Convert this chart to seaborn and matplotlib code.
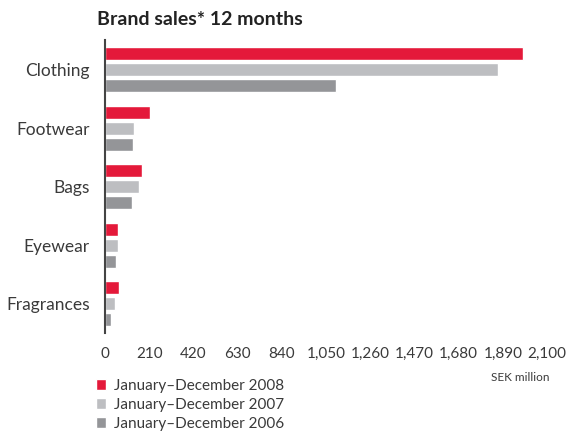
import matplotlib
matplotlib.use("Agg")
import matplotlib.pyplot as plt
import seaborn as sns
import pandas as pd
from matplotlib.ticker import FuncFormatter

categories = ["Clothing", "Footwear", "Bags", "Eyewear", "Fragrances"]
series_names = ["January\u2013December 2008", "January\u2013December 2007", "January\u2013December 2006"]
sales_2008 = [1984, 214, 176, 62, 67]
sales_2007 = [1867, 138, 161, 62, 47]
sales_2006 = [1097, 133, 128, 52, 28]
x_ticks = [0, 210, 420, 630, 840, 1050, 1260, 1470, 1680, 1890, 2100]
colors = ["#E4193A", "#BDBEC1", "#949598"]

rows = []
for name, vals in zip(series_names, [sales_2008, sales_2007, sales_2006]):
    for c, v in zip(categories, vals):
        rows.append({"category": c, "series": name, "value": v})
df = pd.DataFrame(rows)

sns.set_style("white")
plt.rcParams['font.family'] = ['Lato', 'DejaVu Sans']

fig = plt.figure(figsize=(5.7, 4.32), dpi=100)
ax = fig.add_axes([0.184, 0.229, 0.776, 0.678])
sns.barplot(data=df, y="category", x="value", hue="series", order=categories,
            hue_order=series_names, palette=colors, orient="h",
            width=0.82, gap=0.19, saturation=1, ax=ax, legend=True)

ax.set_xlim(0, 2100)
ax.set_ylim(4.5, -0.5)
ax.set_xticks(x_ticks)
ax.xaxis.set_major_formatter(FuncFormatter(lambda v, p: f"{int(v):,}"))
ax.set_xlabel("")
ax.set_ylabel("")
ax.tick_params(axis="both", length=0, colors="#3a3a3a")
ax.tick_params(axis="x", labelsize=11, pad=10)
ax.tick_params(axis="y", labelsize=12.5, pad=11)
for s in ["top", "right", "bottom"]:
    ax.spines[s].set_visible(False)
ax.spines["left"].set_color("#444444")
ax.spines["left"].set_linewidth(1.5)

handles, labels = ax.get_legend_handles_labels()
ax.get_legend().remove()
fig.legend(handles, labels, loc="upper left", bbox_to_anchor=(0.168, 0.123),
           frameon=False, fontsize=11, handlelength=0.7, handleheight=0.7,
           handletextpad=0.5, labelspacing=0.33, borderaxespad=0, borderpad=0,
           labelcolor="#3a3a3a")

fig.text(0.862, 0.127, "SEK million", fontsize=8.5, color="#3a3a3a", ha="left", va="center")
fig.text(0.17, 0.955, "Brand sales* 12 months", fontsize=14, fontweight="bold",
         color="#222222", ha="left", va="center")

fig.savefig("out.png", dpi=100)
